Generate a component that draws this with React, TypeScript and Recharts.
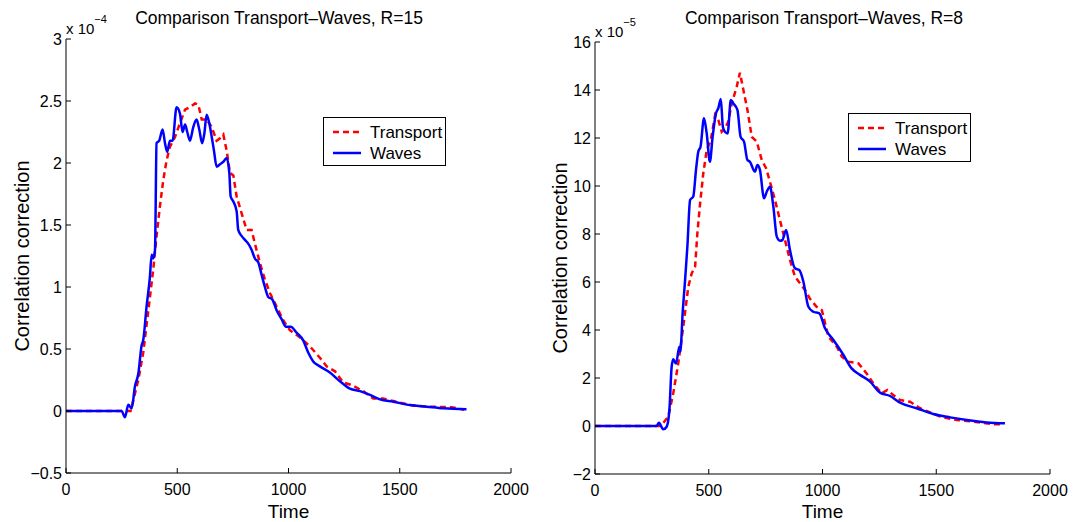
import React from 'react'
import { LineChart, Line, XAxis, YAxis, Legend } from 'recharts'

// left panel, R=15 (values in units of 1e-4)
const leftWavesT = [0, 250, 265, 280, 295, 310, 325, 340, 347, 362, 377, 385, 392, 400, 407, 419, 434, 445, 455, 467, 479, 497, 512, 524, 535, 545, 557, 572, 587, 599, 612, 622, 632, 644, 655, 665, 677, 692, 707, 722, 734, 740, 752, 767, 774, 790, 804, 819, 834, 849, 864, 879, 894, 909, 927, 947, 969, 989, 1010, 1037, 1066, 1089, 1111, 1141, 1186, 1231, 1276, 1321, 1366, 1411, 1471, 1546, 1621, 1696, 1800]
const leftWavesV = [0, 0, -0.05, 0.05, 0.02, 0.2, 0.3, 0.53, 0.57, 0.84, 1.08, 1.26, 1.23, 1.3, 2.16, 2.18, 2.27, 2.16, 2.09, 2.18, 2.18, 2.45, 2.4, 2.25, 2.31, 2.25, 2.18, 2.29, 2.35, 2.27, 2.16, 2.24, 2.39, 2.32, 2.21, 2.1, 1.97, 1.99, 2.01, 2.04, 1.92, 1.73, 1.69, 1.61, 1.46, 1.41, 1.38, 1.35, 1.3, 1.23, 1.2, 1.1, 1.0, 0.92, 0.9, 0.81, 0.74, 0.68, 0.68, 0.63, 0.57, 0.47, 0.4, 0.36, 0.31, 0.24, 0.18, 0.16, 0.13, 0.094, 0.075, 0.048, 0.035, 0.022, 0.014]
const leftTransportT = [0, 290, 303, 325, 347, 370, 392, 407, 422, 437, 452, 467, 490, 512, 535, 557, 580, 595, 610, 632, 655, 677, 692, 707, 722, 737, 752, 767, 790, 812, 834, 849, 872, 894, 917, 947, 977, 1007, 1040, 1066, 1097, 1141, 1171, 1209, 1246, 1283, 1336, 1381, 1426, 1471, 1561, 1636, 1733, 1790]
const leftTransportV = [0, 0, 0.09, 0.25, 0.47, 0.81, 1.14, 1.41, 1.65, 1.86, 2.02, 2.13, 2.21, 2.32, 2.43, 2.45, 2.48, 2.47, 2.35, 2.35, 2.29, 2.18, 2.2, 2.23, 2.1, 1.92, 1.9, 1.73, 1.59, 1.46, 1.46, 1.35, 1.19, 1.06, 0.95, 0.84, 0.73, 0.65, 0.61, 0.57, 0.52, 0.43, 0.36, 0.32, 0.23, 0.21, 0.16, 0.1, 0.1, 0.08, 0.043, 0.035, 0.03, 0.01]

// right panel, R=8 (values in units of 1e-5)
const rightWavesT = [0, 271, 281, 300, 315, 327, 337, 344, 356, 371, 375, 386, 396, 406, 418, 432, 444, 454, 464, 479, 491, 505, 517, 532, 542, 553, 562, 571, 583, 597, 608, 626, 640, 655, 670, 681, 703, 714, 725, 743, 755, 769, 784, 799, 813, 823, 840, 857, 879, 898, 916, 938, 960, 986, 1011, 1048, 1092, 1128, 1165, 1209, 1253, 1297, 1341, 1414, 1487, 1561, 1634, 1722, 1802]
const rightWavesV = [0, 0, 0.14, -0.14, -0.03, 0.67, 2.47, 2.78, 2.6, 3.3, 3.1, 4.83, 6.08, 7.47, 9.42, 9.56, 10.67, 11.43, 11.64, 12.82, 12.19, 11.01, 12.05, 13.03, 13.24, 13.63, 12.47, 12.26, 12.19, 13.58, 13.44, 13.17, 12.05, 11.85, 11.08, 11.01, 10.6, 10.87, 10.67, 9.49, 9.76, 9.97, 9.14, 7.89, 7.72, 7.74, 8.17, 7.33, 6.57, 6.5, 6.01, 4.97, 4.76, 4.69, 4.07, 3.58, 2.96, 2.4, 2.13, 1.85, 1.39, 1.25, 0.97, 0.74, 0.5, 0.36, 0.25, 0.15, 0.11]
const rightTransportT = [0, 290, 322, 344, 366, 388, 410, 425, 440, 450, 462, 476, 491, 509, 528, 542, 557, 571, 586, 601, 623, 637, 648, 670, 689, 711, 733, 752, 769, 791, 813, 835, 857, 879, 901, 923, 945, 974, 997, 1026, 1063, 1085, 1114, 1158, 1194, 1223, 1260, 1285, 1311, 1341, 1385, 1429, 1465, 1517, 1590, 1663, 1751, 1780]
const rightTransportV = [0, 0, 0.39, 1.36, 2.61, 4.14, 5.8, 6.36, 6.64, 8.03, 9.28, 10.53, 11.5, 11.92, 12.96, 12.75, 12.26, 12.4, 12.68, 13.44, 14.14, 14.72, 14.2, 13.17, 12.05, 11.85, 11.08, 10.74, 10.18, 9.42, 8.58, 7.75, 6.92, 6.22, 5.95, 5.67, 5.3, 4.97, 4.83, 3.72, 3.3, 2.89, 2.68, 2.61, 2.19, 1.78, 1.36, 1.5, 1.29, 1.08, 1.01, 0.74, 0.6, 0.39, 0.25, 0.18, 0.07, 0.07]

const xTicks = [0, 500, 1000, 1500, 2000]
const leftYTicks = [-0.5, 0, 0.5, 1, 1.5, 2, 2.5, 3]
const rightYTicks = [-2, 0, 2, 4, 6, 8, 10, 12, 14, 16]

const FONT = '"Liberation Sans", Arial, Helvetica, sans-serif'

const zip = (t: number[], v: number[]) => t.map((x, i) => ({ t: x, v: v[i] }))
const fmt = (v: number) => String(v).replace('-', '\u2212')

function LegendBox() {
  return (
    <div style={{ width: 121, height: 47, border: '1px solid #000', background: '#fff', fontFamily: FONT }}>
      <svg width={121} height={47} style={{ display: 'block' }}>
        <line x1={9} x2={37} y1={14} y2={14} stroke="#ff0000" strokeWidth={2.5} strokeDasharray="6 4" />
        <text x={46} y={14} dy="0.35em" fontSize={17} fill="#000">Transport</text>
        <line x1={9} x2={37} y1={35} y2={35} stroke="#0000ff" strokeWidth={2.5} />
        <text x={46} y={35} dy="0.35em" fontSize={17} fill="#000">Waves</text>
      </svg>
    </div>
  )
}

interface PanelProps {
  left: number
  width: number
  top: number
  plotLeft: number
  plotRight: number
  bottom: number
  title: string
  titleX: number
  exp: string
  yDomain: [number, number]
  yTicks: number[]
  transport: { t: number; v: number }[]
  waves: { t: number; v: number }[]
  legendX: number
  legendY: number
  yLabelOffset: number
}

function Panel(p: PanelProps) {
  const H = 522
  return (
    <div style={{ position: 'absolute', left: p.left, top: 0, width: p.width, height: H, fontFamily: FONT }}>
      <div style={{ position: 'absolute', left: p.titleX - p.left - 200, width: 400, top: 8, textAlign: 'center', fontSize: 17.5, color: '#000', whiteSpace: 'nowrap' }}>
        {p.title}
      </div>
      <div style={{ position: 'absolute', left: p.plotLeft - p.left, top: p.top - 21, fontSize: 15, color: '#000', whiteSpace: 'nowrap' }}>
        x 10<sup style={{ fontSize: 11, position: 'relative', top: -5 }}>{'\u2212' + p.exp}</sup>
      </div>
      <LineChart
        width={p.width}
        height={H}
        margin={{ top: p.top, right: p.width - (p.plotRight - p.left), left: 0, bottom: 0 }}
      >
        <XAxis
          type="number"
          dataKey="t"
          domain={[0, 2000]}
          ticks={xTicks}
          allowDataOverflow
          height={H - p.bottom}
          axisLine={{ stroke: '#000' }}
          tickLine={{ stroke: '#000' }}
          tickSize={-5}
          tickMargin={16}
          tick={{ fill: '#000', fontSize: 16, fontFamily: FONT }}
          label={{ value: 'Time', position: 'insideBottom', offset: 4, fill: '#000', fontSize: 19, fontFamily: FONT }}
        />
        <YAxis
          type="number"
          dataKey="v"
          domain={p.yDomain}
          ticks={p.yTicks}
          allowDataOverflow
          width={p.plotLeft - p.left}
          axisLine={{ stroke: '#000' }}
          tickLine={{ stroke: '#000' }}
          tickSize={-5}
          tickMargin={9}
          tickFormatter={fmt}
          tick={{ fill: '#000', fontSize: 16, fontFamily: FONT }}
          label={{
            value: 'Correlation correction',
            angle: -90,
            position: 'insideLeft',
            offset: p.yLabelOffset,
            fill: '#000',
            fontSize: 20,
            fontFamily: FONT,
            style: { textAnchor: 'middle' },
          }}
        />
        <Legend
          layout="horizontal"
          align="center"
          verticalAlign="middle"
          content={() => <LegendBox />}
          wrapperStyle={{ position: 'absolute', left: p.legendX - p.left, top: p.legendY, width: 'auto', height: 'auto' }}
        />
        <Line
          data={p.transport}
          dataKey="v"
          name="Transport"
          type="linear"
          stroke="#ff0000"
          strokeWidth={2.5}
          strokeDasharray="6 4"
          dot={false}
          isAnimationActive={false}
        />
        <Line
          data={p.waves}
          dataKey="v"
          name="Waves"
          type="monotone"
          stroke="#0000ff"
          strokeWidth={2.5}
          dot={false}
          isAnimationActive={false}
        />
      </LineChart>
    </div>
  )
}

export default function App() {
  return (
    <div style={{ position: 'absolute', left: 0, top: 0, width: 1073, height: 522, background: '#fff' }}>
      <Panel
        left={0}
        width={540}
        top={39}
        plotLeft={66}
        plotRight={511}
        bottom={473}
        title="Comparison Transport–Waves, R=15"
        titleX={279}
        exp="4"
        yDomain={[-0.5, 3]}
        yTicks={leftYTicks}
        transport={zip(leftTransportT, leftTransportV)}
        waves={zip(leftWavesT, leftWavesV)}
        legendX={323}
        legendY={117}
        yLabelOffset={22}
      />
      <Panel
        left={530}
        width={543}
        top={42}
        plotLeft={595}
        plotRight={1050}
        bottom={474}
        title="Comparison Transport–Waves, R=8"
        titleX={824}
        exp="5"
        yDomain={[-2, 16]}
        yTicks={rightYTicks}
        transport={zip(rightTransportT, rightTransportV)}
        waves={zip(rightWavesT, rightWavesV)}
        legendX={848}
        legendY={113}
        yLabelOffset={30}
      />
    </div>
  )
}
